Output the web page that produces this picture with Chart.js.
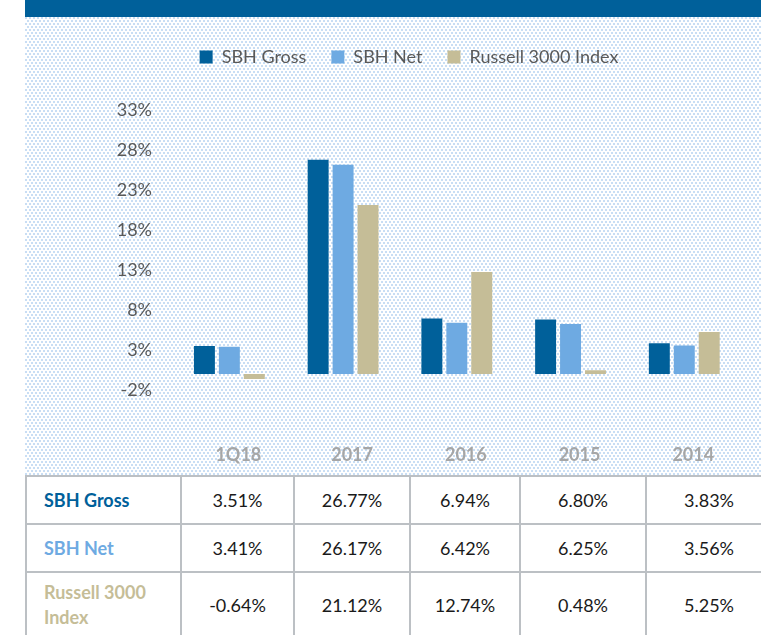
<!DOCTYPE html>
<html>
<head>
<meta charset="utf-8">
<script src="https://cdn.jsdelivr.net/npm/chart.js@4.4.1/dist/chart.umd.min.js"></script>
<style>
  html, body { margin: 0; padding: 0; background: #fff; overflow: hidden; }
  body { width: 761px; height: 635px; position: relative; font-family: Lato, sans-serif; }
  #banner { position: absolute; left: 25px; top: 0; width: 736px; height: 17px; background: #00609a; }
  #chartBox { position: absolute; left: 25px; top: 17px; width: 736px; height: 459px; }
  #returns { position: absolute; left: 25px; top: 475px; width: 746px; border-collapse: collapse; table-layout: fixed; background: #fff; }
  #returns td { border: 2px solid #bcc0c4; font-size: 18px; color: #1a1a1a; text-align: center; padding: 0; line-height: 25px; }
  #returns td.name { text-align: left; padding-left: 17px; font-weight: bold; }
</style>
</head>
<body>
<div id="banner"></div>
<div id="chartBox"><canvas id="chart"></canvas></div>
<table id="returns">
  <colgroup>
    <col style="width:155px"><col style="width:113px"><col style="width:116px">
    <col style="width:110px"><col style="width:126px"><col style="width:126px">
  </colgroup>
  <tbody></tbody>
</table>
<script>
// chart data
const categories = ['1Q18', '2017', '2016', '2015', '2014'];
const sbhGross = [3.51, 26.77, 6.94, 6.80, 3.83];
const sbhNet = [3.41, 26.17, 6.42, 6.25, 3.56];
const russell3000 = [-0.64, 21.12, 12.74, 0.48, 5.25];
const seriesNames = ['SBH Gross', 'SBH Net', 'Russell 3000 Index'];
const yTicks = [-2, 3, 8, 13, 18, 23, 28, 33];

const DARK = '#00609a';
const LIGHT = '#6eaae2';
const TAN = '#c5bd97';
const colors = [DARK, LIGHT, TAN];

// dotted background like the slide template
function dotPattern(ctx) {
    const tile = document.createElement('canvas');
    tile.width = 4;
    tile.height = 6;
    const t = tile.getContext('2d');
    t.fillStyle = '#c9def4';
    t.fillRect(0, 0, 2, 2);
    t.fillRect(2, 3, 2, 2);
    return ctx.createPattern(tile, 'repeat');
}

const backdrop = {
    id: 'backdrop',
    beforeDraw(chart) {
        const ctx = chart.ctx;
        ctx.save();
        ctx.fillStyle = '#ffffff';
        ctx.fillRect(0, 0, chart.width, chart.height);
        ctx.fillStyle = dotPattern(ctx);
        ctx.fillRect(0, 0, chart.width, chart.height);
        ctx.restore();
    }
};

// extra room between legend and plot
const legendGap = {
    id: 'legendGap',
    beforeInit(chart) {
        const fit = chart.legend.fit;
        chart.legend.fit = function () {
            fit.bind(this)();
            this.height += 34;
        };
    }
};

const series = [sbhGross, sbhNet, russell3000];

new Chart(document.getElementById('chart'), {
    type: 'bar',
    data: {
        labels: categories,
        datasets: series.map((data, i) => ({
            label: seriesNames[i],
            data: data,
            backgroundColor: colors[i],
            categoryPercentage: 0.658,
            barPercentage: 0.84,
        })),
    },
    options: {
        responsive: true,
        maintainAspectRatio: false,
        animation: false,
        layout: { padding: { top: 6, left: 50.5, right: 18.5, bottom: 10 } },
        plugins: {
            tooltip: { enabled: false },
            legend: {
                labels: {
                    boxWidth: 13,
                    boxHeight: 13,
                    padding: 25,
                    color: '#595959',
                    font: { family: 'Lato', size: 18 },
                },
            },
        },
        scales: {
            x: {
                grid: { display: false, drawTicks: false },
                border: { display: false },
                afterFit: s => { s.height = 76; },
                ticks: {
                    padding: 54,
                    labelOffset: 9,
                    color: '#a6a6a6',
                    font: { family: 'Lato', size: 18, weight: 'bold' },
                },
            },
            y: {
                min: -2,
                max: 33,
                grid: { display: false, drawTicks: false },
                border: { display: false },
                afterBuildTicks: s => { s.ticks = yTicks.map(v => ({ value: v })); },
                afterFit: s => { s.width = 97; },
                ticks: {
                    padding: 20.5,
                    color: '#595959',
                    font: { family: 'Lato', size: 18 },
                    callback: v => v + '%',
                },
            },
        },
    },
    plugins: [backdrop, legendGap],
});

// data table under the chart
const rowHeights = [48, 48, 66];
const tbody = document.querySelector('#returns tbody');
series.forEach((data, i) => {
    const tr = document.createElement('tr');
    tr.style.height = rowHeights[i] + 'px';
    const name = document.createElement('td');
    name.className = 'name';
    name.style.color = colors[i];
    name.textContent = seriesNames[i];
    tr.appendChild(name);
    data.forEach(v => {
        const td = document.createElement('td');
        td.textContent = v.toFixed(2) + '%';
        tr.appendChild(td);
    });
    tr.appendChild(document.createElement('td'));
    tbody.appendChild(tr);
});
</script>
</body>
</html>
